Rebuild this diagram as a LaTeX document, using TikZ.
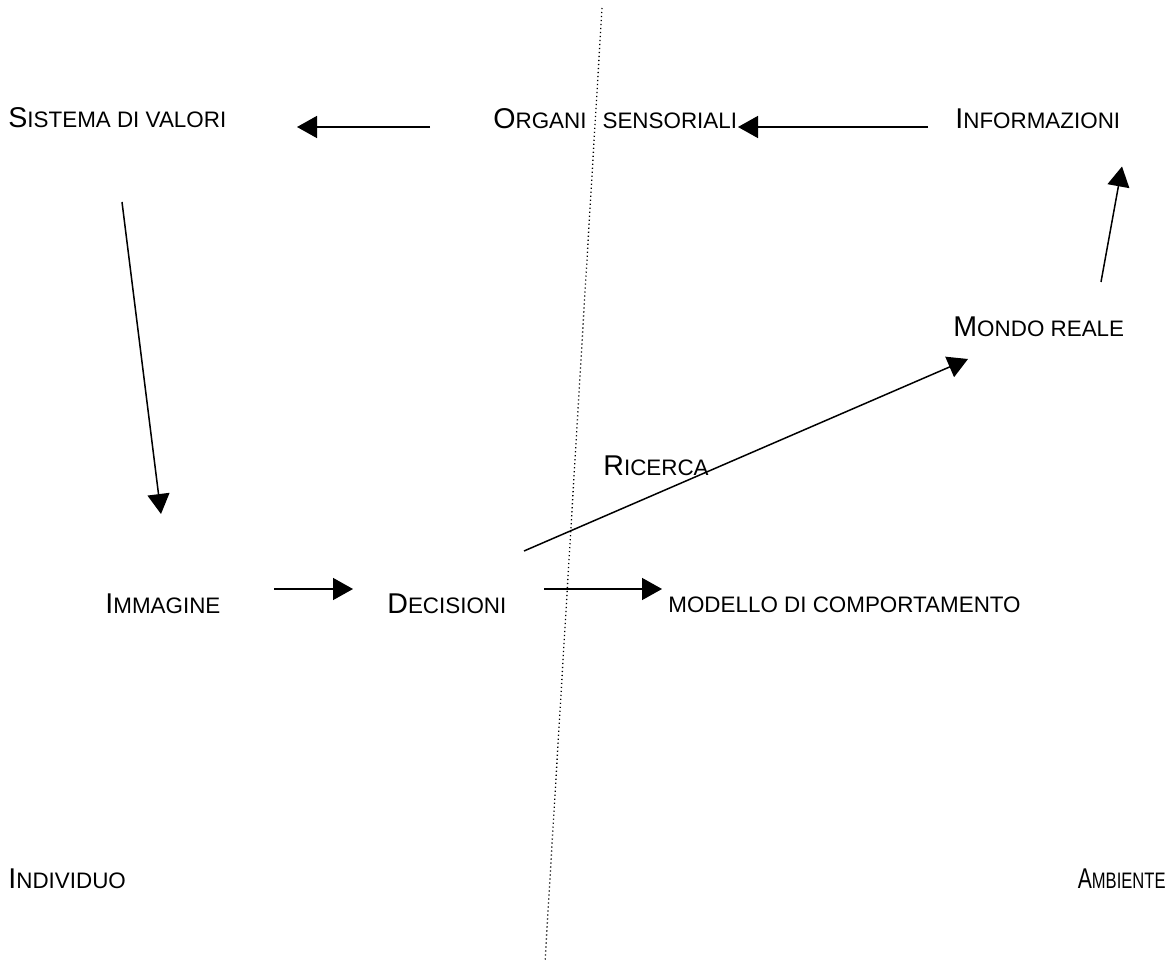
\documentclass[tikz,border=0pt]{standalone}
\usepackage{fontspec}
\setmainfont{Liberation Sans}
\usepackage{tikz}
\usetikzlibrary{arrows.meta,calc}
\newcommand{\bigf}{\fontsize{14.3}{16}\selectfont}
\newcommand{\smallf}{\fontsize{11.2}{13}\selectfont}
\newcommand{\scap}[2]{{\bigf #1}{\smallf #2}}

\begin{document}
\begin{tikzpicture}[x=0.5pt, y=-0.5pt,
  lbl/.style={anchor=base west, inner sep=0pt, font=\bigf},
  arr/.style={-{Triangle[length=10pt, width=11pt]}, line width=0.75pt}]
\useasboundingbox (0,0) rectangle (1174,968);

% boundary between individual and environment
\draw[line width=0.65pt, dash pattern=on 0.6pt off 1.4pt] (602,8) -- (545,962);

\node[lbl] (sistema) at (8,128) {\scap{S}{ISTEMA DI VALORI}};
\node[lbl] (organi) at (493,128.5) {\scap{O}{RGANI\hspace{8pt}SENSORIALI}};
\node[lbl] (info) at (955,128.5) {\scap{I}{NFORMAZIONI}};
\node[lbl] (mondo) at (953,337) {\scap{M}{ONDO REALE}};
\node[lbl] (ricerca) at (603,475) {\scap{R}{ICERCA}};
\node[lbl] (immagine) at (105,613) {\scap{I}{MMAGINE}};
\node[lbl] (decisioni) at (387,613) {\scap{D}{ECISIONI}};
\node[lbl, font=\smallf] (modello) at (668,612) {MODELLO DI COMPORTAMENTO};
\node[lbl] (individuo) at (8,888) {\scap{I}{NDIVIDUO}};
\node[lbl, anchor=base east] (ambiente) at (1166,888) {\scalebox{0.74}[1]{\scap{A}{MBIENTE}}};

\draw[arr] ($(organi.base west)+(-63,-1.5)$) -- ($(sistema.base west)+(289,-1)$);
\draw[arr] ($(info.base west)+(-27,-1.5)$) -- ($(organi.base west)+(245,-1.5)$);
\draw[arr] ($(mondo.base west)+(148,-55)$) -- ($(info.base west)+(167,38)$);
\draw[arr] ($(decisioni.base west)+(137,-62)$) -- ($(mondo.base west)+(15,22)$);
\draw[arr] ($(sistema.base west)+(114,74)$) -- ($(immagine.base west)+(56,-99)$);
\draw[arr] ($(immagine.base west)+(169,-24)$) -- ($(decisioni.base west)+(-34,-24)$);
\draw[arr] ($(decisioni.base west)+(157,-24)$) -- ($(modello.base west)+(-6,-23)$);
\end{tikzpicture}
\end{document}
